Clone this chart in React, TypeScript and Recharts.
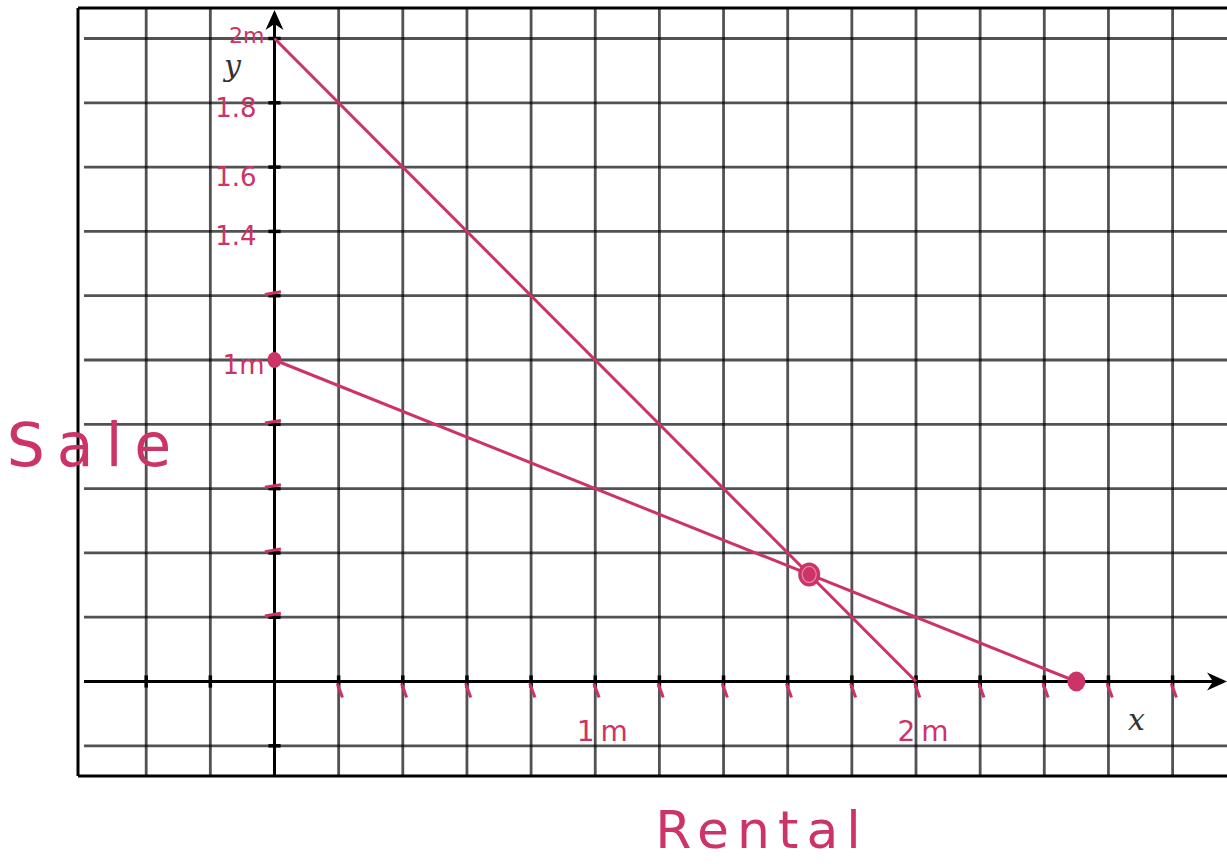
import React from 'react';
import { ComposedChart, Line, Scatter, XAxis, YAxis, ReferenceLine, ReferenceDot } from 'recharts';

// ---- data ----
const X_MIN = -0.6126;
const X_MAX = 2.9696;
const Y_MIN = -0.2939;
const Y_MAX = 2.0949;

const xGridValues = [-0.4, -0.2, 0.2, 0.4, 0.6, 0.8, 1.0, 1.2, 1.4, 1.6, 1.8, 2.0, 2.2, 2.4, 2.6, 2.8];
const yGridValues = [-0.2, 0.2, 0.4, 0.6, 0.8, 1.0, 1.2, 1.4, 1.6, 1.8, 2.0];

const line1 = [
  { x: 0, y: 2 },
  { x: 2, y: 0 },
];
const line2 = [
  { x: 0, y: 1 },
  { x: 2.5, y: 0 },
];
const keyPoints = [
  { x: 0, y: 1 },
  { x: 1.667, y: 0.333 },
  { x: 2.5, y: 0 },
];

const yLabels = [
  { y: 2.0, text: '2m' },
  { y: 1.8, text: '1.8' },
  { y: 1.6, text: '1.6' },
  { y: 1.4, text: '1.4' },
  { y: 1.0, text: '1m' },
];
const xLabels = [
  { x: 1, text: '1m' },
  { x: 2, text: '2m' },
];
const pinkXTicks = [0.2, 0.4, 0.6, 0.8, 1.0, 1.2, 1.4, 1.6, 1.8, 2.0, 2.2, 2.4, 2.6, 2.8];
const pinkYTicks = [1.2, 0.8, 0.6, 0.4, 0.2];

const xAxisTitle = 'Rental';
const yAxisTitle = 'Sale';

// ---- styles ----
const PINK = '#cc3366';
const GRID = 'rgba(0,0,0,0.68)';
const HAND_FONT = '"DejaVu Sans", sans-serif';

const PointShape = (props: any) => {
  const { cx, cy, index } = props;
  const r = index === 1 ? 12 : index === 2 ? 10 : 8;
  return (
    <g>
      <ellipse cx={cx} cy={cy} rx={r - 1} ry={r} fill={PINK} />
      {index === 1 && <ellipse cx={cx} cy={cy} rx={r - 5} ry={r - 4} fill="none" stroke="#e88aa8" strokeWidth={1.2} />}
    </g>
  );
};

const XArrow = (props: any) => {
  const { cx, cy } = props;
  return <path d={`M${cx},${cy} L${cx - 20},${cy - 9} L${cx - 14},${cy} L${cx - 20},${cy + 9} Z`} fill="#000" />;
};
const YArrow = (props: any) => {
  const { cx, cy } = props;
  return <path d={`M${cx},${cy} L${cx - 9},${cy + 20} L${cx},${cy + 14} L${cx + 9},${cy + 20} Z`} fill="#000" />;
};

const makeText = (text: string, dx: number, dy: number, size: number, opts: any = {}) => (props: any) => {
  const { cx, cy } = props;
  return (
    <text
      x={cx + dx}
      y={cy + dy}
      fill={opts.fill || PINK}
      fontSize={size}
      fontFamily={opts.family || HAND_FONT}
      fontStyle={opts.style || 'normal'}
      textAnchor={opts.anchor || 'middle'}
      dominantBaseline="central"
      letterSpacing={opts.spacing || 0}
    >
      {text}
    </text>
  );
};

export default function App() {
  return (
    <div style={{ position: 'absolute', left: 0, top: 0, width: 1227, height: 864, background: '#fff' }}>
      <ComposedChart width={1227} height={864} margin={{ top: 8, right: 0, bottom: 88, left: 78 }}>
        <XAxis type="number" dataKey="x" domain={[X_MIN, X_MAX]} allowDataOverflow hide />
        <YAxis type="number" dataKey="y" domain={[Y_MIN, Y_MAX]} allowDataOverflow hide />

        {/* grid */}
        {xGridValues.map((v) => (
          <ReferenceLine key={'vx' + v} x={v} stroke={GRID} strokeWidth={2.8} ifOverflow="visible" />
        ))}
        {yGridValues.map((v) => (
          <ReferenceLine
            key={'hy' + v}
            segment={[
              { x: -0.594, y: v },
              { x: X_MAX, y: v },
            ]}
            stroke={GRID}
            strokeWidth={2.8}
            ifOverflow="visible"
          />
        ))}

        {/* frame: top, left, bottom */}
        <ReferenceLine y={Y_MAX} stroke="#000" strokeWidth={3} ifOverflow="visible" />
        <ReferenceLine y={Y_MIN} stroke="#000" strokeWidth={3} ifOverflow="visible" />
        <ReferenceLine x={X_MIN} stroke="#000" strokeWidth={3} ifOverflow="visible" />

        {/* axes */}
        <ReferenceLine
          segment={[
            { x: -0.594, y: 0 },
            { x: 2.95, y: 0 },
          ]}
          stroke="#000"
          strokeWidth={3}
          ifOverflow="visible"
        />
        <ReferenceLine
          segment={[
            { x: 0, y: Y_MIN },
            { x: 0, y: 2.07 },
          ]}
          stroke="#000"
          strokeWidth={3}
          ifOverflow="visible"
        />
        {xGridValues.map((v) => (
          <ReferenceLine
            key={'tx' + v}
            segment={[
              { x: v, y: -0.019 },
              { x: v, y: 0.019 },
            ]}
            stroke="#000"
            strokeWidth={3.5}
            ifOverflow="visible"
          />
        ))}
        {yGridValues.map((v) => (
          <ReferenceLine
            key={'ty' + v}
            segment={[
              { x: -0.019, y: v },
              { x: 0.019, y: v },
            ]}
            stroke="#000"
            strokeWidth={3.5}
            ifOverflow="visible"
          />
        ))}
        <ReferenceDot x={X_MAX} y={0} r={0} shape={XArrow} ifOverflow="visible" />
        <ReferenceDot x={0} y={2.089} r={0} shape={YArrow} ifOverflow="visible" />

        {/* axis letters */}
        <ReferenceDot
          x={0}
          y={0}
          r={0}
          ifOverflow="visible"
          shape={makeText('x', 862, 38, 30, { fill: '#333', family: '"DejaVu Serif", serif', style: 'italic' })}
        />
        <ReferenceDot
          x={0}
          y={Y_MAX}
          r={0}
          ifOverflow="visible"
          shape={makeText('y', -42, 57, 30, { fill: '#333', family: '"DejaVu Serif", serif', style: 'italic' })}
        />

        {/* pink hand ticks */}
        {pinkXTicks.map((v) => (
          <ReferenceLine
            key={'px' + v}
            segment={[
              { x: v - 0.004, y: -0.006 },
              { x: v + 0.012, y: -0.05 },
            ]}
            stroke={PINK}
            strokeWidth={3}
            ifOverflow="visible"
          />
        ))}
        {pinkYTicks.map((v) => (
          <ReferenceLine
            key={'py' + v}
            segment={[
              { x: -0.03, y: v + 0.004 },
              { x: 0.02, y: v + 0.012 },
            ]}
            stroke={PINK}
            strokeWidth={3}
            ifOverflow="visible"
          />
        ))}

        {/* series */}
        <Line data={line1} dataKey="y" type="linear" stroke={PINK} strokeWidth={3} dot={false} isAnimationActive={false} />
        <Line data={line2} dataKey="y" type="linear" stroke={PINK} strokeWidth={3} dot={false} isAnimationActive={false} />
        <Scatter data={keyPoints} dataKey="y" fill={PINK} shape={PointShape} isAnimationActive={false} />

        {/* hand labels */}
        {yLabels.map((l) => (
          <ReferenceDot
            key={'yl' + l.text}
            x={0}
            y={l.y}
            r={0}
            ifOverflow="visible"
            shape={makeText(
              l.text,
              l.text.endsWith('m') ? -10 : -18,
              l.y === 2.0 ? -3 : l.y === 1.6 ? 10 : 5,
              l.y === 2.0 ? 22 : 26,
              { anchor: 'end' }
            )}
          />
        ))}
        {xLabels.map((l) => (
          <ReferenceDot
            key={'xl' + l.text}
            x={l.x}
            y={0}
            r={0}
            ifOverflow="visible"
            shape={makeText(l.text, 10, 50, 28, { spacing: 6 })}
          />
        ))}
        <ReferenceDot
          x={1.52}
          y={Y_MIN}
          r={0}
          ifOverflow="visible"
          shape={makeText(xAxisTitle, 0, 54, 52, { spacing: 8 })}
        />
        <ReferenceDot
          x={X_MIN}
          y={0.7356}
          r={0}
          ifOverflow="visible"
          shape={makeText(yAxisTitle, 17, 0, 60, { spacing: 12 })}
        />
      </ComposedChart>
    </div>
  );
}
